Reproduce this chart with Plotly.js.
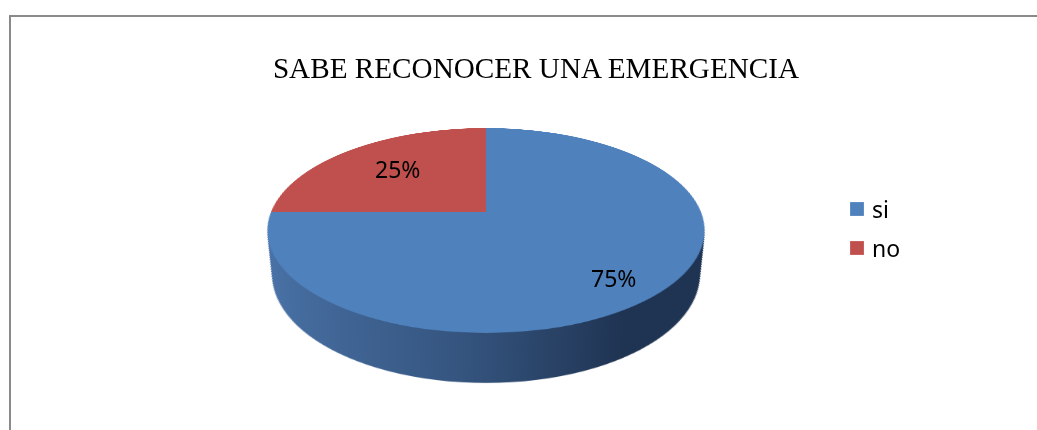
<!DOCTYPE html>
<html><head><meta charset="utf-8">
<script src="https://cdn.plot.ly/plotly-3.0.1.min.js"></script>
<style>
html,body{margin:0;padding:0;background:#fff;overflow:hidden;}
#wrap{position:relative;width:1037px;height:430px;overflow:hidden;background:#fff;}
#frame{position:absolute;left:9px;top:15px;width:1200px;height:700px;border-left:2px solid #8a8a8a;border-top:2px solid #8a8a8a;box-sizing:border-box;}
#pie3d{position:absolute;}
#over{position:absolute;left:0;top:0;width:1037px;height:430px;}
</style></head><body>
<div id="wrap"><div id="frame"></div><div id="pie3d"></div><div id="over"></div></div>
<script>
// ---- data ----
const labels = ['si', 'no'];
const values = [75, 25];
const colors = ['#4f81bd', '#c0504d'];
const titleText = 'SABE RECONOCER UNA EMERGENCIA';

// ---- layout constants ----
const PAGE_W = 1037, PAGE_H = 430;
const CX = 485.5, CY = 212;          // page position of pie centre
const R = 215;                       // pie radius (local px)
const PERSP = 1057, TILT = 62.54;    // perspective / tilt (deg)
const DEPTH = 50.4;                  // cylinder depth
const NSIDE = 24;
const AW = 440, AH = 510, ACX = 220, ACY = 220;
const LABEL_POS = [[613, 278], [397, 169]];
const LEG_Y = [209, 248], LEG_SYM_X = 857, LEG_TEXT_X = 872;

const sinA = Math.sin(TILT * Math.PI / 180), cosA = Math.cos(TILT * Math.PI / 180);

function domainFor(s, r) {
  const cyFromBottom = AH - (ACY + s);
  return { x: [(ACX - r) / AW, (ACX + r) / AW], y: [(cyFromBottom - r) / AH, (cyFromBottom + r) / AH] };
}

const pieTraces = [];
for (let k = NSIDE; k >= 1; k--) {
  const t = DEPTH * k / NSIDE;
  const s = t * sinA * PERSP / (PERSP * cosA + t);
  const r = R * (PERSP - s * sinA) / (PERSP + t * cosA);
  pieTraces.push({
    type: 'pie', labels: labels, values: values, sort: false, direction: 'clockwise', rotation: 0,
    textinfo: 'none', hoverinfo: 'skip', showlegend: false,
    marker: { colors: ['#2f4c78', '#2f4c78'], line: { width: 0 } },
    domain: domainFor(s, r)
  });
}
pieTraces.push({
  type: 'pie', labels: labels, values: values, sort: false, direction: 'clockwise', rotation: 0,
  textinfo: 'none', hoverinfo: 'skip', showlegend: false,
  marker: { colors: colors, line: { width: 0 } },
  domain: domainFor(0, R)
});

const divA = document.getElementById('pie3d');
divA.style.width = AW + 'px';
divA.style.height = AH + 'px';
divA.style.left = (CX - ACX) + 'px';
divA.style.top = (CY - ACY) + 'px';
divA.style.transformOrigin = ACX + 'px ' + ACY + 'px';
divA.style.transform = 'perspective(' + PERSP + 'px) rotateX(' + TILT + 'deg)';

Plotly.newPlot(divA, pieTraces, {
  width: AW, height: AH, margin: { l: 0, r: 0, t: 0, b: 0 },
  paper_bgcolor: 'rgba(0,0,0,0)', plot_bgcolor: 'rgba(0,0,0,0)', showlegend: false
}, { staticPlot: true, displayModeBar: false }).then(function (gd) {
  const svg = gd.querySelector('svg.main-svg');
  const NS = 'http://www.w3.org/2000/svg';
  let defs = svg.querySelector('defs');
  if (!defs) { defs = document.createElementNS(NS, 'defs'); svg.insertBefore(defs, svg.firstChild); }
  const grad = document.createElementNS(NS, 'linearGradient');
  grad.setAttribute('id', 'sideGrad');
  grad.setAttribute('x1', '0'); grad.setAttribute('x2', '1');
  grad.setAttribute('y1', '0'); grad.setAttribute('y2', '0');
  [[0, '#4a73a8'], [0.45, '#35557f'], [0.78, '#1f3352'], [1, '#1f3352']].forEach(function (st) {
    const e = document.createElementNS(NS, 'stop');
    e.setAttribute('offset', st[0]); e.setAttribute('stop-color', st[1]);
    grad.appendChild(e);
  });
  defs.appendChild(grad);
  const groups = gd.querySelectorAll('.pielayer .trace');
  groups.forEach(function (g, i) {
    if (i < NSIDE) g.querySelectorAll('path.surface').forEach(function (p) { p.style.fill = 'url(#sideGrad)'; });
  });
});

// ---- overlay: title, legend, labels ----
const total = values.reduce((a, b) => a + b, 0);
const pct = values.map(v => Math.round(v / total * 100) + '%');
const annotations = pct.map((txt, i) => ({
  text: txt, xref: 'paper', yref: 'paper',
  x: LABEL_POS[i][0] / PAGE_W, y: 1 - LABEL_POS[i][1] / PAGE_H,
  xanchor: 'center', yanchor: 'middle', showarrow: false,
  font: { family: 'Noto Sans', size: 23, color: '#000' }
}));

const divB = document.getElementById('over');
Plotly.newPlot(divB, [{
  type: 'pie', labels: labels, values: values, sort: false, direction: 'clockwise',
  textinfo: 'none', hoverinfo: 'skip', showlegend: true,
  marker: { colors: colors, line: { width: 0 } },
  domain: { x: [0.4, 0.5], y: [0.4, 0.5] }
}], {
  width: PAGE_W, height: PAGE_H, margin: { l: 0, r: 0, t: 0, b: 0 },
  paper_bgcolor: 'rgba(0,0,0,0)', plot_bgcolor: 'rgba(0,0,0,0)',
  title: {
    text: titleText, x: 536 / PAGE_W, xanchor: 'center', xref: 'container',
    y: 1 - 68 / PAGE_H, yanchor: 'middle', yref: 'container',
    font: { family: 'Liberation Serif, Times New Roman, serif', size: 29.2, color: '#000' }
  },
  showlegend: true,
  legend: {
    x: 834 / PAGE_W, xanchor: 'left', y: 1 - 190 / PAGE_H, yanchor: 'top',
    bgcolor: 'rgba(0,0,0,0)', borderwidth: 0, traceorder: 'normal',
    font: { family: 'Noto Sans', size: 23, color: '#000' }
  },
  annotations: annotations
}, { staticPlot: true, displayModeBar: false }).then(function (gd) {
  const pl = gd.querySelector('.pielayer');
  if (pl) pl.style.display = 'none';
  const sb = gd.querySelector('.legend .scrollbox');
  if (sb) sb.removeAttribute('clip-path');
  const base = gd.getBoundingClientRect();
  gd.querySelectorAll('.legend .traces').forEach(function (row, i) {
    const sym = row.querySelector('.legendpoints path');
    const txt = row.querySelector('text.legendtext');
    if (sym) sym.setAttribute('transform', 'scale(1.15)');
    const m = /translate\(([-\d.]+)[ ,]*([-\d.]+)?\)/.exec(row.getAttribute('transform') || '');
    let x = m ? parseFloat(m[1]) : 0, y = m && m[2] ? parseFloat(m[2]) : 0;
    if (sym && i < LEG_Y.length) {
      const rc = sym.getBoundingClientRect();
      const cx = rc.left + rc.width / 2 - base.left, cy = rc.top + rc.height / 2 - base.top;
      x += LEG_SYM_X - cx; y += LEG_Y[i] - cy;
      row.setAttribute('transform', 'translate(' + x + ',' + y + ')');
      if (txt) {
        const tr = txt.getBoundingClientRect();
        const curLeft = tr.left - base.left;
        const oldX = parseFloat(txt.getAttribute('x') || '40');
        txt.setAttribute('x', oldX + (LEG_TEXT_X - curLeft));
      }
    }
  });
});
</script>
</body></html>
